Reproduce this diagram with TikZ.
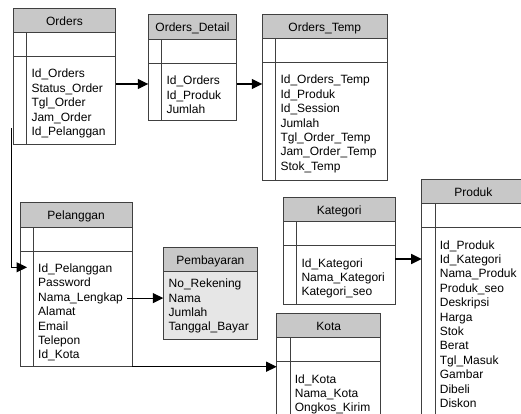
\documentclass[tikz,border=0pt]{standalone}
\usepackage{fontspec}
\setmainfont{Liberation Sans}
\usetikzlibrary{arrows.meta}

\definecolor{hdrgray}{HTML}{C8C8C8}
\definecolor{bodygray}{HTML}{E6E6E6}
\definecolor{linegray}{HTML}{404040}

\tikzset{
    frame/.style = {draw=linegray, line width=1pt},
    ttl/.style = {anchor=base, inner sep=0pt, font=\fontsize{12}{14.4}\selectfont},
    fld/.style = {anchor=base west, inner sep=0pt, font=\fontsize{12}{14.4}\selectfont},
    conn/.style = {black, line width=1.2pt, -{Triangle[length=10.5pt,width=10pt]}}
}

% name, title, x1, y1, x2, y2, fields
\newcommand{\ertable}[7]{
    \fill[hdrgray] (#3,#4) rectangle (#5,#4+24.3);
    \draw[frame] (#3,#4) rectangle (#5,#6);
    \draw[frame] (#3,#4+24.3) -- (#5,#4+24.3) (#3,#4+48.6) -- (#5,#4+48.6);
    \draw[frame] (#3+13.4,#4+24.3) -- (#3+13.4,#6);
    \coordinate (#1-nw) at (#3,#4);
    \coordinate (#1-se) at (#5,#6);
    \node[ttl] (#1) at ({(#3+#5)/2},#4+16.8) {#2};
    \foreach \f [count=\i] in {#7}
        \node[fld] (#1-\i) at ({#3+18},{#4+69.7+(\i-1)*14.4}) {\f};
}

\begin{document}
\begin{tikzpicture}[x=1pt, y=-1pt]

    \useasboundingbox (0,0) rectangle (521,414);
    \clip (0,0) rectangle (521,414);

    \ertable{orders}{Orders}{13.3}{8.3}{115.7}{144.3}
        {Id\_Orders, Status\_Order, Tgl\_Order, Jam\_Order, Id\_Pelanggan}
    \ertable{detail}{Orders\_Detail}{148.3}{15}{236.7}{120.7}
        {Id\_Orders, Id\_Produk, Jumlah}
    \ertable{temp}{Orders\_Temp}{262.3}{14.3}{387.3}{180}
        {Id\_Orders\_Temp, Id\_Produk, Id\_Session, Jumlah, Tgl\_Order\_Temp, Jam\_Order\_Temp, Stok\_Temp}
    \ertable{produk}{Produk}{421.7}{179.3}{525}{430}
        {Id\_Produk, Id\_Kategori, Nama\_Produk, Produk\_seo, Deskripsi, Harga, Stok, Berat, Tgl\_Masuk, Gambar, Dibeli, Diskon}
    \ertable{kategori}{Kategori}{283.3}{197.3}{395}{304}
        {Id\_Kategori, Nama\_Kategori, Kategori\_seo}
    \ertable{kota}{Kota}{276.7}{313.3}{380.7}{430}
        {Id\_Kota, Nama\_Kota, Ongkos\_Kirim}
    \ertable{pelanggan}{Pelanggan}{20}{202.7}{132.3}{366.7}
        {Id\_Pelanggan, Password, Nama\_Lengkap, Alamat, Email, Telepon, Id\_Kota}

    % Pembayaran has no key row
    \fill[bodygray] (163.3,247.7) rectangle (257.5,339.3);
    \fill[hdrgray] (163.3,247.7) rectangle (257.5,271.7);
    \draw[frame] (163.3,247.7) rectangle (257.5,339.3);
    \draw[frame] (163.3,271.7) -- (257.5,271.7);
    \coordinate (bayar-nw) at (163.3,247.7);
    \node[ttl] (bayar) at (210.4,264.3) {Pembayaran};
    \foreach \f [count=\i] in {No\_Rekening, Nama, Jumlah, Tanggal\_Bayar}
        \node[fld] (bayar-\i) at (168.5,{287.6+(\i-1)*14.4}) {\f};

    % relations
    \draw[conn] (orders-se |- 0,84) -- (detail-nw |- 0,84);
    \draw[conn] (detail-se |- 0,84) -- (temp-nw |- 0,84);
    \draw[conn] (kategori-se |- 0,259) -- (produk-nw |- 0,259);
    \coordinate (ordFk) at (11.7,128.3);
    \coordinate (pelIn) at (27,267.3);
    \draw[conn] (ordFk) |- (pelIn);
    \draw[conn] ([xshift=4pt]pelanggan-3.east) -- (bayar-nw |- pelanggan-3.east);
    \draw[conn] (pelanggan-se) -- (kota-nw |- pelanggan-se);

\end{tikzpicture}
\end{document}
